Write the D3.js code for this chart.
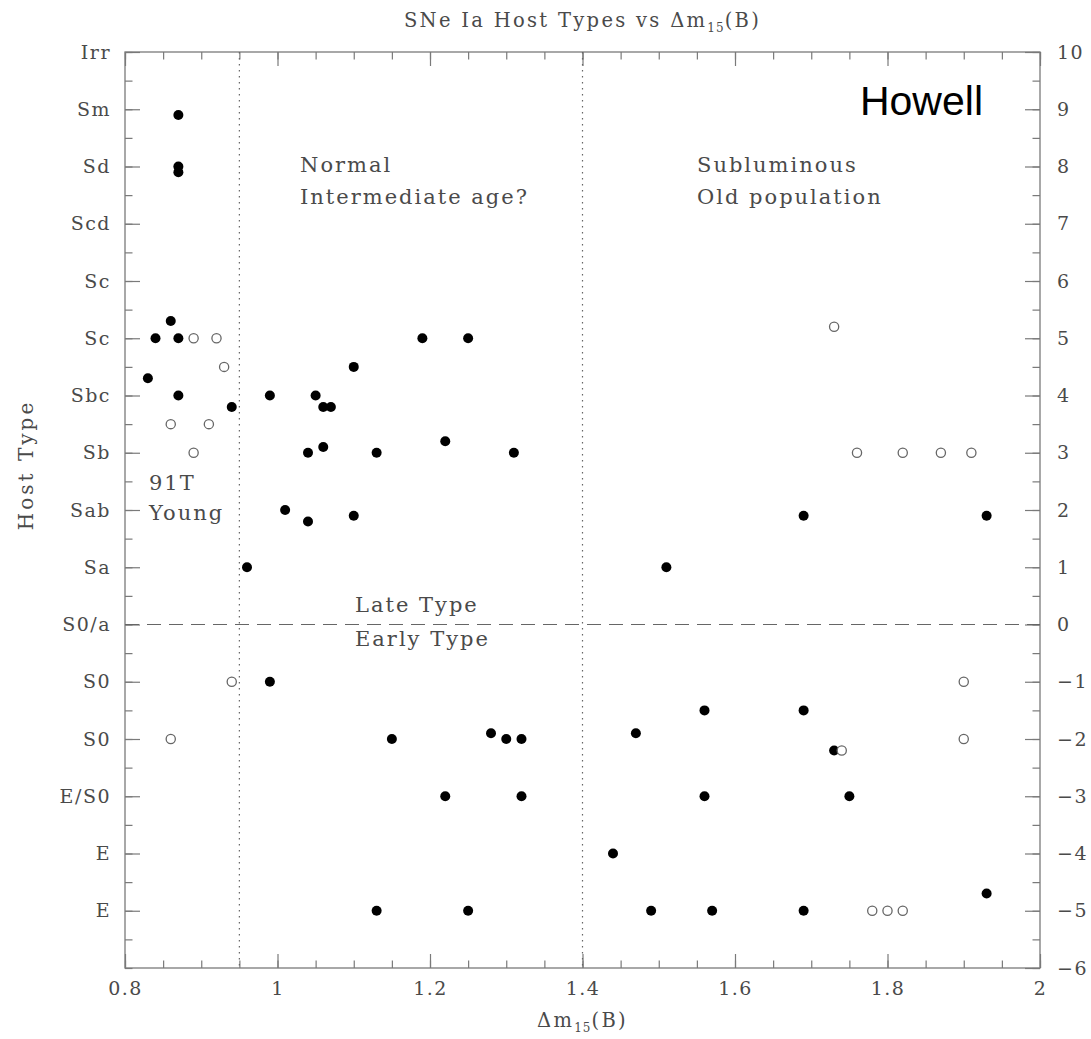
<!DOCTYPE html>
<html>
<head>
<meta charset="utf-8">
<script src="https://cdn.jsdelivr.net/npm/d3@7"></script>
<style>
  html, body { margin: 0; padding: 0; background: #fff; }
  svg { display: block; }
  .lbl { font-family: "DejaVu Serif", serif; fill: #4a4a4a; }
  .tick-lbl { font-size: 19px; letter-spacing: 1.5px; }
  .note { font-size: 21px; letter-spacing: 2px; }
  .ttl { font-size: 19.5px; letter-spacing: 2.3px; }
</style>
</head>
<body>
<svg id="chart" width="1091" height="1039"></svg>
<script>
// Host galaxy type (numeric T-type) against decline rate Δm15(B)
const filledDm15 = [0.87, 0.87, 0.87, 0.86, 0.84, 0.87, 1.19, 1.25, 1.10, 0.83, 0.87, 0.99, 1.05, 0.94, 1.06, 1.07,
  1.04, 1.06, 1.13, 1.22, 1.31, 1.01, 1.04, 1.10, 1.69, 1.93, 0.96, 1.51, 0.99, 1.56, 1.69,
  1.15, 1.28, 1.30, 1.32, 1.47, 1.73, 1.22, 1.32, 1.56, 1.75, 1.44, 1.13, 1.25, 1.49, 1.57, 1.69, 1.93];
const filledType = [8.9, 8.0, 7.9, 5.3, 5, 5, 5, 5, 4.5, 4.3, 4, 4, 4, 3.8, 3.8, 3.8,
  3, 3.1, 3, 3.2, 3, 2, 1.8, 1.9, 1.9, 1.9, 1, 1, -1, -1.5, -1.5,
  -2, -1.9, -2, -2, -1.9, -2.2, -3, -3, -3, -3, -4, -5, -5, -5, -5, -5, -4.7];

const openDm15 = [0.89, 0.92, 0.93, 0.86, 0.91, 0.89, 1.73, 1.76, 1.82, 1.87, 1.91,
  0.94, 0.86, 1.74, 1.90, 1.90, 1.78, 1.80, 1.82];
const openType = [5, 5, 4.5, 3.5, 3.5, 3, 5.2, 3, 3, 3, 3,
  -1, -2, -2.2, -1, -2, -5, -5, -5];

const xTickValues = [0.8, 1.0, 1.2, 1.4, 1.6, 1.8, 2.0];
const xTickLabels = ["0.8", "1", "1.2", "1.4", "1.6", "1.8", "2"];
const typeValues = [10, 9, 8, 7, 6, 5, 4, 3, 2, 1, 0, -1, -2, -3, -4, -5];
const typeNames = ["Irr", "Sm", "Sd", "Scd", "Sc", "Sc", "Sbc", "Sb", "Sab", "Sa", "S0/a", "S0", "S0", "E/S0", "E", "E"];
const rightTickValues = [10, 9, 8, 7, 6, 5, 4, 3, 2, 1, 0, -1, -2, -3, -4, -5, -6];
const dividers = [0.95, 1.4];

const svg = d3.select("#chart");
const L = 125, R = 1040, T = 52, B = 968;
const frame = "#7a7a7a";

const x = d3.scaleLinear().domain([0.8, 2.0]).range([L, R]);
const y = d3.scaleLinear().domain([-6, 10]).range([B, T]);

// minor tick positions
const xMinor = d3.range(0.8, 2.0001, 0.05).map(v => +v.toFixed(2));
const yMinor = d3.range(-6, 10.0001, 0.5);

function tickAxis(axisGen, transform) {
  const g = svg.append("g").attr("transform", transform).call(axisGen);
  g.select(".domain").remove();
  g.selectAll("line").attr("stroke", frame).attr("stroke-width", 1.2);
  return g;
}

// Minor ticks on all four sides
tickAxis(d3.axisBottom(x).tickValues(xMinor).tickSize(-7.5).tickFormat(""), `translate(0,${B})`);
tickAxis(d3.axisTop(x).tickValues(xMinor).tickSize(-7.5).tickFormat(""), `translate(0,${T})`);
tickAxis(d3.axisLeft(y).tickValues(yMinor).tickSize(-7.5).tickFormat(""), `translate(${L},0)`);
tickAxis(d3.axisRight(y).tickValues(yMinor).tickSize(-7.5).tickFormat(""), `translate(${R},0)`);

// Major ticks with labels
const xb = tickAxis(d3.axisBottom(x).tickValues(xTickValues).tickSize(-14).tickPadding(14)
  .tickFormat((d, i) => xTickLabels[i]), `translate(0,${B})`);
tickAxis(d3.axisTop(x).tickValues(xTickValues).tickSize(-14).tickFormat(""), `translate(0,${T})`);
const yl = tickAxis(d3.axisLeft(y).tickValues(typeValues).tickSize(-15).tickPadding(14)
  .tickFormat((d, i) => typeNames[i]), `translate(${L},0)`);
const yr = tickAxis(d3.axisRight(y).tickValues(rightTickValues).tickSize(-15).tickPadding(17)
  .tickFormat(d => d < 0 ? "\u2212" + Math.abs(d) : String(d)), `translate(${R},0)`);

[xb, yl, yr].forEach(g => g.selectAll("text")
  .attr("class", "lbl tick-lbl").attr("fill", null));

// Frame
svg.append("rect").attr("x", L).attr("y", T).attr("width", R - L).attr("height", B - T)
  .attr("fill", "none").attr("stroke", frame).attr("stroke-width", 1.3);

// Divider lines
svg.selectAll("line.div").data(dividers).enter().append("line")
  .attr("x1", d => x(d)).attr("x2", d => x(d)).attr("y1", T).attr("y2", B)
  .attr("stroke", "#666").attr("stroke-width", 1.2).attr("stroke-dasharray", "1.5,4.5");
svg.append("line").attr("x1", L).attr("x2", R).attr("y1", y(0)).attr("y2", y(0))
  .attr("stroke", "#666").attr("stroke-width", 1.2).attr("stroke-dasharray", "14,8");

// Points
svg.append("g").selectAll("circle").data(filledDm15).enter().append("circle")
  .attr("cx", d => x(d)).attr("cy", (d, i) => y(filledType[i])).attr("r", 5).attr("fill", "#000");
svg.append("g").selectAll("circle").data(openDm15).enter().append("circle")
  .attr("cx", d => x(d)).attr("cy", (d, i) => y(openType[i])).attr("r", 4.6)
  .attr("fill", "#fff").attr("stroke", "#666").attr("stroke-width", 1.3);

// Annotations
const notes = [
  { t: "Normal", x: 300, y: 172 },
  { t: "Intermediate age?", x: 300, y: 204 },
  { t: "Subluminous", x: 697, y: 172 },
  { t: "Old population", x: 697, y: 204 },
  { t: "91T", x: 149, y: 490 },
  { t: "Young", x: 149, y: 520 },
  { t: "Late Type", x: 355, y: 612 },
  { t: "Early Type", x: 355, y: 646 }
];
svg.append("g").selectAll("text").data(notes).enter().append("text")
  .attr("class", "lbl note").attr("x", d => d.x).attr("y", d => d.y).text(d => d.t);

// Title
const title = svg.append("text").attr("class", "lbl ttl").attr("x", (L + R) / 2).attr("y", 27)
  .attr("text-anchor", "middle");
title.append("tspan").text("SNe Ia Host Types vs \u0394m");
title.append("tspan").attr("dy", 5).style("font-size", "12px").style("letter-spacing", "1px").text("15");
title.append("tspan").attr("dy", -5).text("(B)");

// x-axis title
const xt = svg.append("text").attr("class", "lbl ttl").attr("x", (L + R) / 2).attr("y", 1027)
  .attr("text-anchor", "middle");
xt.append("tspan").text("\u0394m");
xt.append("tspan").attr("dy", 5).style("font-size", "12px").style("letter-spacing", "1px").text("15");
xt.append("tspan").attr("dy", -5).text("(B)");

// y-axis title
svg.append("text").attr("class", "lbl").attr("transform", "translate(33,465) rotate(-90)")
  .attr("text-anchor", "middle").style("font-size", "20px").style("letter-spacing", "3px")
  .text("Host Type");

// Author tag
svg.append("text").attr("x", 983).attr("y", 115).attr("text-anchor", "end")
  .style("font-family", "'Liberation Sans', Arial, sans-serif").style("font-size", "41px")
  .attr("fill", "#000").text("Howell");
</script>
</body>
</html>
